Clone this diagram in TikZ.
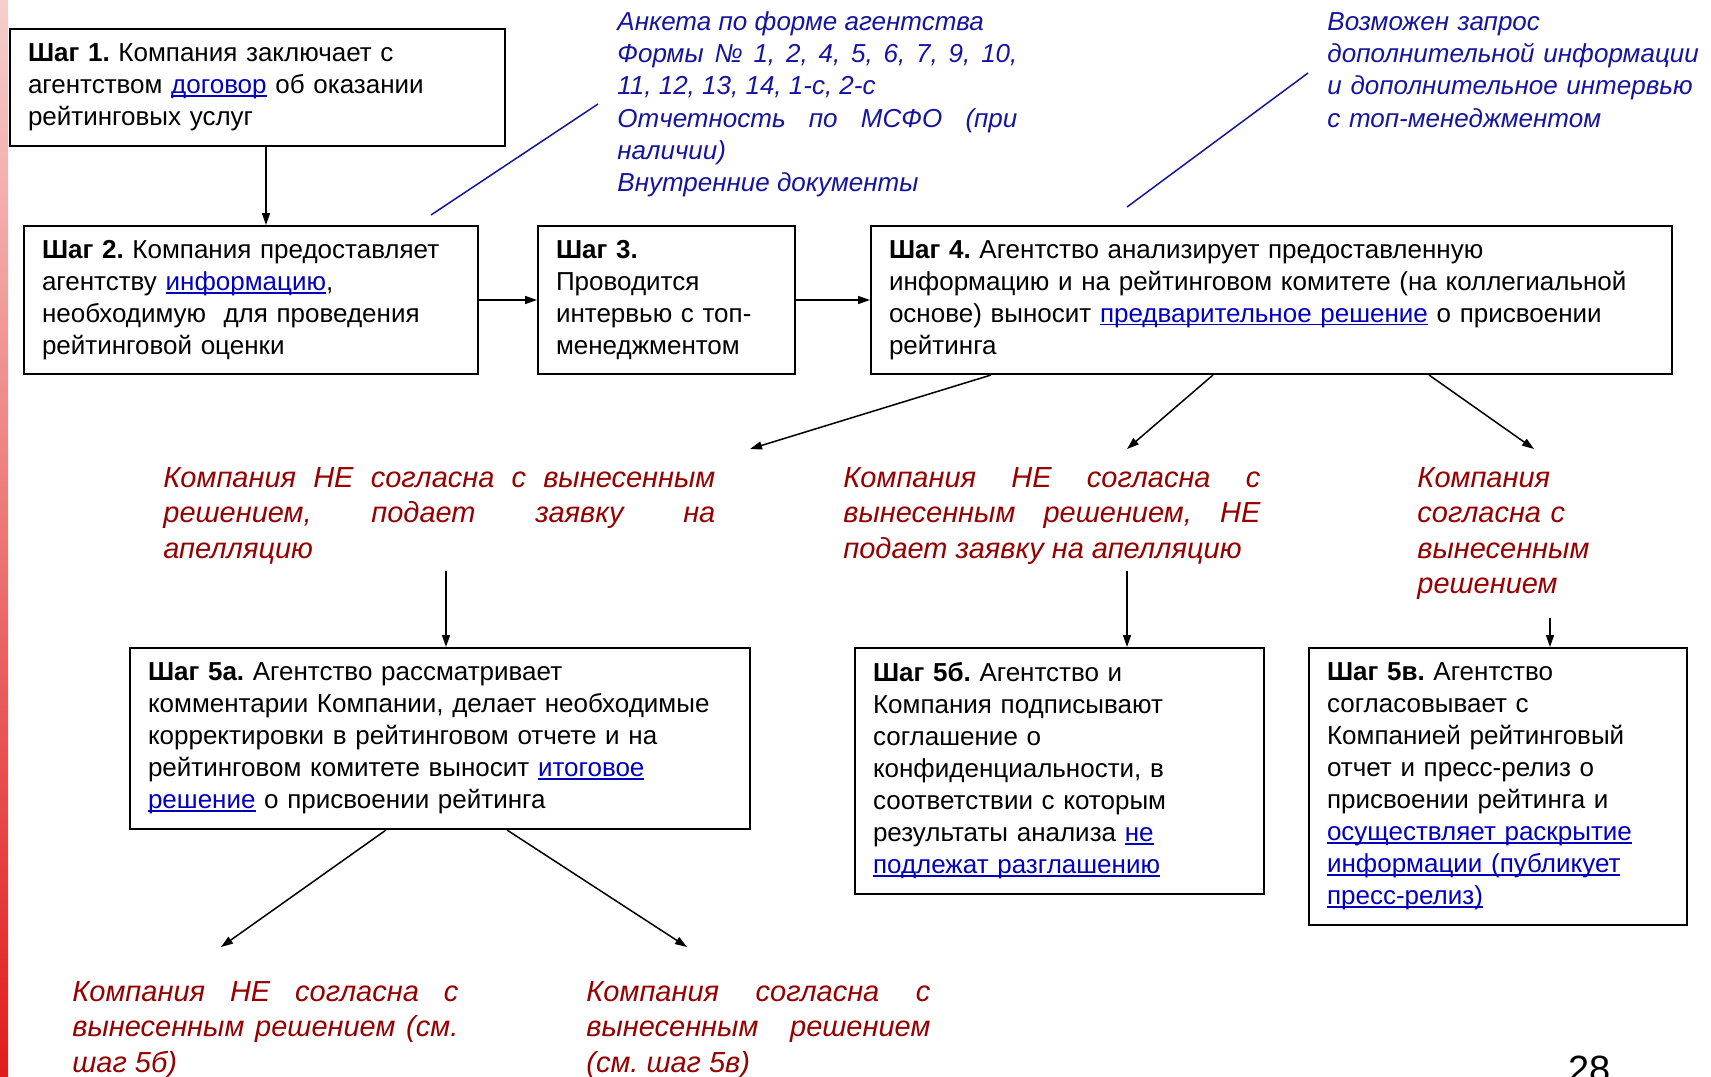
\documentclass[tikz,border=0pt]{standalone}
\usepackage{fontspec}
\setmainfont{Liberation Sans}
\usetikzlibrary{arrows.meta}
\frenchspacing

\definecolor{notecol}{RGB}{20,20,160}
\definecolor{verdcol}{RGB}{150,0,0}
\definecolor{linkcol}{RGB}{0,0,190}
\definecolor{barlight}{RGB}{247,206,206}
\definecolor{bardark}{RGB}{226,28,28}

\newcommand{\lnk}[1]{\textcolor{linkcol}{\setbox0\hbox{#1}\rlap{\rule[-1.6pt]{\wd0}{0.8pt}}\box0}}

\tikzset{
  stepbox/.style={draw, line width=1pt, anchor=north west, align=left, inner xsep=9pt, inner ysep=0pt,
    font=\fontsize{13}{16}\selectfont},
  notetext/.style={anchor=base west, inner sep=0pt, align=justify, text=notecol,
    font=\fontsize{13}{16}\selectfont\itshape},
  verdict/.style={anchor=base west, inner sep=0pt, align=justify, text=verdcol,
    font=\fontsize{14.5}{17.75}\selectfont\itshape},
  arr/.style={-{Triangle[length=6pt,width=4pt]}, line width=0.75pt},
  callout/.style={notecol, line width=0.75pt}
}

\begin{document}
\begin{tikzpicture}[x=0.5pt,y=-0.5pt]
\useasboundingbox (0,0) rectangle (1711,1076);
\shade[top color=barlight, bottom color=bardark] (0,0) rectangle (8,1076);

\node[stepbox, text width=229.5pt, minimum height=58.5pt] (s1) at (9,28)
  {\textbf{Шаг 1.} Компания заключает с\\агентством \lnk{договор} об оказании\\рейтинговых услуг};
\node[stepbox, text width=209pt, minimum height=74pt] (s2) at (23,225)
  {\textbf{Шаг 2.} Компания предоставляет\\агентству \lnk{информацию},\\необходимую\ \ для проведения\\рейтинговой оценки};
\node[stepbox, text width=110.5pt, minimum height=74pt] (s3) at (537,225)
  {\textbf{Шаг 3.}\\Проводится\\интервью с топ-\\менеджментом};
\node[stepbox, text width=382.5pt, minimum height=74pt] (s4) at (870,225)
  {\textbf{Шаг 4.} Агентство анализирует предоставленную\\информацию и на рейтинговом комитете (на коллегиальной\\основе) выносит \lnk{предварительное решение} о присвоении\\рейтинга};

\node[notetext, text width=200pt] (anketa) at (617,31)
  {Анкета по форме агентства\\Формы № 1, 2, 4, 5, 6, 7, 9, 10, \linebreak 11, 12, 13, 14, 1-с, 2-с\\Отчетность по МСФО (при \linebreak наличии)\\Внутренние документы};
\node[notetext, align=left, text width=190pt] (zapros) at (1327,31)
  {Возможен запрос\\дополнительной информации\\и дополнительное интервью\\с топ-менеджментом};
\coordinate (anketa tip) at (598,104);
\coordinate (anketa foot) at (431,215);
\coordinate (zapros tip) at (1308,73);
\coordinate (zapros foot) at (1127,207);
\draw[callout] (anketa foot) -- (anketa tip);
\draw[callout] (zapros foot) -- (zapros tip);

\node[verdict, text width=276pt] (v4no) at (163,487)
  {Компания НЕ согласна с вынесенным \linebreak решением, подает заявку на \linebreak апелляцию};
\node[verdict, text width=208.5pt] (v4keep) at (843,487)
  {Компания НЕ согласна с \linebreak вынесенным решением, НЕ \linebreak подает заявку на апелляцию};
\node[verdict, align=left, text width=100pt] (v4yes) at (1417,487)
  {Компания\\согласна с\\вынесенным\\решением};

\node[stepbox, text width=292pt, minimum height=90.5pt] (s5a) at (129,647)
  {\textbf{Шаг 5а.} Агентство рассматривает\\комментарии Компании, делает необходимые\\корректировки в рейтинговом отчете и на\\рейтинговом комитете выносит \lnk{итоговое}\\\lnk{решение} о присвоении рейтинга};
\node[stepbox, text width=186.5pt, minimum height=123pt] (s5b) at (854,647)
  {\textbf{Шаг 5б.} Агентство и\\Компания подписывают\\соглашение о\\конфиденциальности, в\\соответствии с которым\\результаты анализа \lnk{не}\\\lnk{подлежат разглашению}};
\node[stepbox, text width=171pt, minimum height=138.5pt] (s5v) at (1308,647)
  {\textbf{Шаг 5в.} Агентство\\согласовывает с\\Компанией рейтинговый\\отчет и пресс-релиз о\\присвоении рейтинга и\\\lnk{осуществляет раскрытие}\\\lnk{информации (публикует}\\\lnk{пресс-релиз)}};

\node[verdict, text width=193pt] (v5no) at (72,1001)
  {Компания НЕ согласна с \linebreak вынесенным решением (см. \linebreak шаг 5б)};
\node[verdict, text width=172pt] (v5yes) at (586,1001)
  {Компания согласна с \linebreak вынесенным решением \linebreak (см. шаг 5в)};

\node[anchor=base west, inner sep=0pt, font=\fontsize{19}{22}\selectfont] (pagenum) at (1568,1082) {28};

\coordinate (v4no top) at (750,449);
\coordinate (v4keep top) at (1127,449);
\coordinate (v4yes top) at (1534,449);
\coordinate (v4no foot) at (446,571);
\coordinate (v4keep foot) at (1127,571);
\coordinate (v4yes foot) at (1550,618);
\coordinate (v5no top) at (221,947);
\coordinate (v5yes top) at (687,947);

\draw[arr] ([xshift=4.25pt]s1.south) -- ([xshift=4.25pt]s1.south |- s2.north);
\draw[arr] (s2.east) -- (s3.west);
\draw[arr] (s3.east) -- (s4.west);

\draw[arr] ([xshift=60.5pt]s4.south west) -- (v4no top);
\draw[arr] ([xshift=171.5pt]s4.south west) -- (v4keep top);
\draw[arr] ([xshift=279.5pt]s4.south west) -- (v4yes top);

\draw[arr] (v4no foot) -- (v4no foot |- s5a.north);
\draw[arr] (v4keep foot) -- (v4keep foot |- s5b.north);
\draw[arr] (v4yes foot) -- (v4yes foot |- s5v.north);

\draw[arr] ([xshift=128.5pt]s5a.south west) -- (v5no top);
\draw[arr] ([xshift=189pt]s5a.south west) -- (v5yes top);

\end{tikzpicture}
\end{document}
